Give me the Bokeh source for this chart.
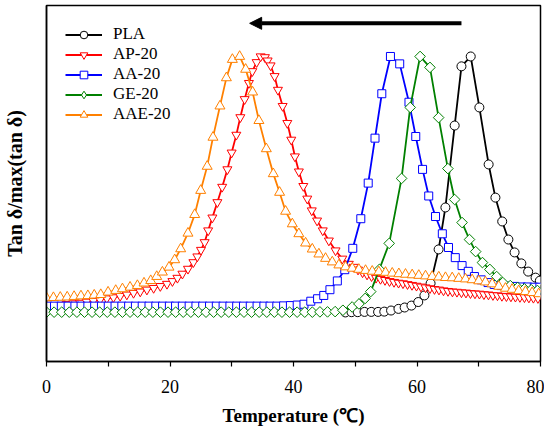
import math
from bokeh.plotting import figure
from bokeh.models import Range1d, FixedTicker, Legend, LegendItem, Arrow, NormalHead
from bokeh.embed import file_html
from bokeh.resources import INLINE

# ---------------- data ----------------
pla_T = [48.4, 49.4, 50.4, 51.5, 52.6, 53.7, 54.7, 55.8, 57.0, 58.0, 59.1, 60.2, 61.2,
         62.2, 63.5, 64.6, 66.1, 67.2, 68.7, 70.1, 71.6, 72.7, 73.8, 74.8, 75.8, 76.9, 78.0, 79.2, 79.9]
pla_v = [0.066, 0.067, 0.067, 0.068, 0.068, 0.068, 0.069, 0.073, 0.079, 0.084, 0.091, 0.104, 0.128,
         0.172, 0.296, 0.449, 0.748, 0.964, 1.000, 0.814, 0.606, 0.485, 0.398, 0.332, 0.285, 0.245, 0.215, 0.193, 0.182]

ap_T = [0.00, 1.08, 2.17, 3.25, 4.34, 5.42, 6.50, 7.59, 8.67, 9.76,
        10.84, 11.93, 13.01, 14.09, 15.18, 16.26, 17.35, 18.43, 19.51, 20.39,
        21.20, 22.01, 22.91, 23.79, 24.43, 25.02, 25.61, 26.18, 26.86, 27.67,
        28.45, 29.29, 29.98, 30.74, 31.39, 32.09, 32.78, 33.33, 34.03, 34.68,
        35.37, 35.81, 36.29, 36.94, 37.48, 38.24, 39.00, 39.64, 40.23, 40.87,
        41.59, 42.23, 42.96, 43.82, 44.74, 45.73, 46.81, 47.90, 48.96, 49.72,
        50.45, 51.18, 51.91, 52.64, 53.37, 54.09, 54.82, 55.55, 56.28, 57.01,
        57.73, 58.46, 59.19, 59.92, 60.65, 61.38, 62.10, 62.83, 63.56, 64.29,
        65.02, 65.74, 66.47, 67.20, 67.93, 68.66, 69.39, 70.11, 70.84, 71.57,
        72.30, 73.03, 73.75, 74.48, 75.21, 75.94, 76.67, 77.40, 78.12, 78.85,
        79.58]
ap_v = [0.088, 0.090, 0.093, 0.096, 0.099, 0.101, 0.105, 0.108, 0.112, 0.117,
        0.121, 0.126, 0.131, 0.137, 0.142, 0.149, 0.155, 0.162, 0.170, 0.180,
        0.192, 0.207, 0.225, 0.249, 0.270, 0.294, 0.322, 0.365, 0.412, 0.468,
        0.524, 0.588, 0.649, 0.714, 0.778, 0.844, 0.903, 0.946, 0.979, 1.000,
        0.997, 0.985, 0.967, 0.928, 0.878, 0.819, 0.757, 0.696, 0.635, 0.580,
        0.527, 0.481, 0.438, 0.401, 0.365, 0.328, 0.292, 0.262, 0.243, 0.232,
        0.222, 0.212, 0.204, 0.198, 0.192, 0.188, 0.184, 0.180, 0.177, 0.174,
        0.172, 0.169, 0.166, 0.163, 0.160, 0.157, 0.154, 0.151, 0.149, 0.146,
        0.144, 0.142, 0.141, 0.139, 0.138, 0.136, 0.135, 0.134, 0.132, 0.131,
        0.129, 0.128, 0.126, 0.125, 0.124, 0.123, 0.122, 0.121, 0.120, 0.119,
        0.118]

aa_T = [0.2, 1.3, 2.4, 3.5, 4.6, 5.6, 6.7, 7.8, 8.9, 10.0,
        11.1, 12.2, 13.3, 14.4, 15.5, 16.6, 17.7, 18.8, 19.9, 20.9,
        22.0, 23.1, 24.2, 25.3, 26.4, 27.5, 28.6, 29.7, 30.8, 31.9,
        33.0, 34.1, 35.2, 36.2, 37.3, 38.4, 39.5, 40.6,
        41.7, 42.8, 43.9, 44.9, 45.9, 47.1, 48.3, 49.6, 50.9, 52.1,
        53.2, 54.3, 55.7, 57.2, 58.7, 59.8, 60.9, 61.9, 63.0, 64.1,
        65.1, 66.2, 67.3, 68.3, 69.3, 70.4, 71.5, 72.5, 73.6, 74.7,
        75.8, 76.9, 77.9, 79.0, 79.9]
aa_v = [0.089, 0.089, 0.089, 0.089, 0.089, 0.089, 0.089, 0.089, 0.089, 0.089,
        0.089, 0.089, 0.089, 0.089, 0.089, 0.089, 0.089, 0.089, 0.089, 0.089,
        0.089, 0.089, 0.089, 0.089, 0.089, 0.089, 0.089, 0.089, 0.089, 0.089,
        0.089, 0.089, 0.089, 0.089, 0.089, 0.090, 0.091, 0.093,
        0.096, 0.107, 0.116, 0.128, 0.149, 0.181, 0.222, 0.300, 0.408, 0.538,
        0.702, 0.864, 1.000, 0.973, 0.833, 0.708, 0.588, 0.491, 0.416, 0.353,
        0.303, 0.266, 0.237, 0.216, 0.197, 0.185, 0.175, 0.168, 0.164, 0.162,
        0.161, 0.159, 0.159, 0.158, 0.158]

ge_T = [0.00, 1.23, 2.46, 3.69, 4.92, 6.15, 7.38, 8.61, 9.84, 11.07,
        12.30, 13.53, 14.76, 15.99, 17.22, 18.45, 19.68, 20.91, 22.14, 23.37,
        24.60, 25.83, 27.06, 28.29, 29.52, 30.75, 31.98, 33.21, 34.44, 35.67,
        36.90, 38.13, 39.36, 40.59, 41.82, 43.05, 44.28, 45.51, 46.74, 48.0,
        49.5, 50.6, 51.6, 52.5, 53.9, 55.5, 57.5, 58.9, 60.5, 62.1,
        63.5, 65.0, 66.1, 67.3, 68.5, 69.5, 70.6, 71.8, 72.9, 73.9,
        75.1, 76.3, 77.4, 78.5, 79.5]
ge_v = [0.067, 0.067, 0.067, 0.067, 0.067, 0.067, 0.067, 0.067, 0.067, 0.067,
        0.067, 0.067, 0.067, 0.067, 0.067, 0.067, 0.067, 0.067, 0.067, 0.067,
        0.067, 0.067, 0.067, 0.067, 0.067, 0.067, 0.067, 0.067, 0.067, 0.067,
        0.067, 0.067, 0.067, 0.067, 0.067, 0.067, 0.068, 0.068, 0.069, 0.074,
        0.086, 0.097, 0.117, 0.142, 0.223, 0.318, 0.555, 0.814, 1.000, 0.960,
        0.777, 0.591, 0.478, 0.394, 0.332, 0.288, 0.248, 0.223, 0.197, 0.175,
        0.164, 0.157, 0.152, 0.149, 0.146]

aae_T = [0.00, 1.12, 2.23, 3.35, 4.47, 5.58, 6.70, 7.73, 8.79, 9.97,
         11.21, 12.30, 13.53, 14.72, 15.79, 16.88, 17.85, 18.77, 19.84, 20.76,
         21.73, 22.91, 24.00, 24.97, 26.02, 26.96, 28.09, 29.13, 30.10, 31.28,
         32.25, 33.38, 34.40, 35.60, 36.73, 37.75, 38.72, 39.81, 40.87, 41.96,
         43.04, 44.11, 45.19, 46.28, 47.35, 48.43, 49.51, 50.58, 51.67, 52.75,
         53.82, 54.90, 55.99, 57.06, 58.14, 59.22, 60.29, 61.38, 62.46, 63.53,
         64.61, 65.70, 66.76, 67.85, 68.93, 70.00, 71.08, 72.17, 73.24, 74.32,
         75.40, 76.47, 77.56, 78.64, 79.71]
aae_v = [0.119, 0.120, 0.121, 0.122, 0.124, 0.126, 0.127, 0.129, 0.131, 0.140,
         0.146, 0.152, 0.158, 0.164, 0.173, 0.182, 0.197, 0.213, 0.231, 0.258,
         0.298, 0.355, 0.423, 0.511, 0.599, 0.705, 0.819, 0.922, 0.989, 1.000,
         0.953, 0.870, 0.766, 0.663, 0.572, 0.504, 0.435, 0.389, 0.353, 0.319,
         0.297, 0.279, 0.263, 0.250, 0.239, 0.232, 0.227, 0.223, 0.219, 0.216,
         0.214, 0.212, 0.209, 0.207, 0.205, 0.203, 0.201, 0.199, 0.197, 0.195,
         0.193, 0.192, 0.190, 0.188, 0.185, 0.181, 0.177, 0.170, 0.161, 0.154,
         0.150, 0.145, 0.142, 0.138, 0.134]

series_names = ["PLA", "AP-20", "AA-20", "GE-20", "AAE-20"]
x_ticks = [0, 20, 40, 60, 80]
x_minor_ticks = [10, 30, 50, 70]
arrow_x = [67.2, 32.9]
arrow_y = [1.121, 1.121]

# ---------------- figure ----------------
FONT = "Liberation Serif"
p = figure(width=544, height=428, output_backend="svg", toolbar_location=None,
           x_range=Range1d(0, 80), y_range=Range1d(-0.113, 1.186),
           min_border_left=46, min_border_right=4, min_border_top=5, min_border_bottom=67)
p.grid.visible = False
p.background_fill_color = "white"
p.outline_line_color = "black"
p.outline_line_width = 1.5

p.xaxis.ticker = FixedTicker(ticks=x_ticks, minor_ticks=x_minor_ticks)
p.xaxis.axis_line_width = 1.5
p.xaxis.axis_line_color = "black"
p.xaxis.major_tick_in = 0
p.xaxis.major_tick_out = 5
p.xaxis.minor_tick_in = 0
p.xaxis.minor_tick_out = 5
p.xaxis.major_tick_line_width = 1.2
p.xaxis.minor_tick_line_width = 1.2
p.xaxis.major_tick_line_color = "black"
p.xaxis.minor_tick_line_color = "black"
p.xaxis.major_label_text_font = FONT
p.xaxis.major_label_text_font_size = "18px"
p.xaxis.major_label_text_color = "black"
p.xaxis.major_label_standoff = 13
p.xaxis.axis_label = "Temperature (\u2103)"
p.xaxis.axis_label_text_font = FONT
p.xaxis.axis_label_text_font_style = "bold"
p.xaxis.axis_label_text_font_size = "19px"
p.xaxis.axis_label_text_color = "black"
p.xaxis.axis_label_standoff = 9

p.yaxis.ticker = FixedTicker(ticks=[])
p.yaxis.axis_line_width = 1.5
p.yaxis.axis_line_color = "black"
p.yaxis.major_tick_out = 0
p.yaxis.major_tick_in = 0
p.yaxis.minor_tick_out = 0
p.yaxis.major_label_text_font_size = "0px"
p.yaxis.axis_label = "Tan \u03b4/max(tan \u03b4)"
p.yaxis.axis_label_text_font = FONT
p.yaxis.axis_label_text_font_style = "bold"
p.yaxis.axis_label_text_font_size = "20px"
p.yaxis.axis_label_text_color = "black"
p.yaxis.axis_label_standoff = 21

specs = [
    (pla_T, pla_v, "black", "circle", 9, 0.0),
    (ap_T, ap_v, "#ff0000", "inverted_triangle", 9, 0.0),
    (aa_T, aa_v, "#0000ff", "square", 8, 0.0),
    (ge_T, ge_v, "#008000", "square", 7.5, math.pi / 4),
    (aae_T, aae_v, "#ff8000", "triangle", 10, 0.0),
]

items = []
for name, (xs, ys, col, mk, sz, ang) in zip(series_names, specs):
    ln = p.line(xs, ys, line_color=col, line_width=1.8)
    sc = p.scatter(xs, ys, marker=mk, size=sz, angle=ang, line_color=col, fill_color="white", line_width=1)
    legend_marker = sc
    if ang != 0.0:
        # legend glyphs are never rotated, so the legend uses a (hidden) diamond marker of the same series
        legend_marker = p.scatter(xs, ys, marker="diamond", size=sz, line_color=col,
                                  fill_color="white", line_width=1, visible=False)
    items.append(LegendItem(label=name, renderers=[ln, legend_marker]))

legend = Legend(items=items, location="top_left", margin=10, padding=9,
                glyph_width=37, glyph_height=19, label_height=19, spacing=0,
                label_standoff=11, label_text_font=FONT, label_text_font_size="17px",
                label_text_color="black",
                border_line_alpha=0, background_fill_alpha=0)
p.add_layout(legend)

p.add_layout(Arrow(end=NormalHead(size=12, fill_color="black", line_color="black"),
                   x_start=arrow_x[0], y_start=arrow_y[0], x_end=arrow_x[1], y_end=arrow_y[1],
                   line_width=4, line_color="black"))

open("out.html", "w").write(file_html(p, INLINE))
